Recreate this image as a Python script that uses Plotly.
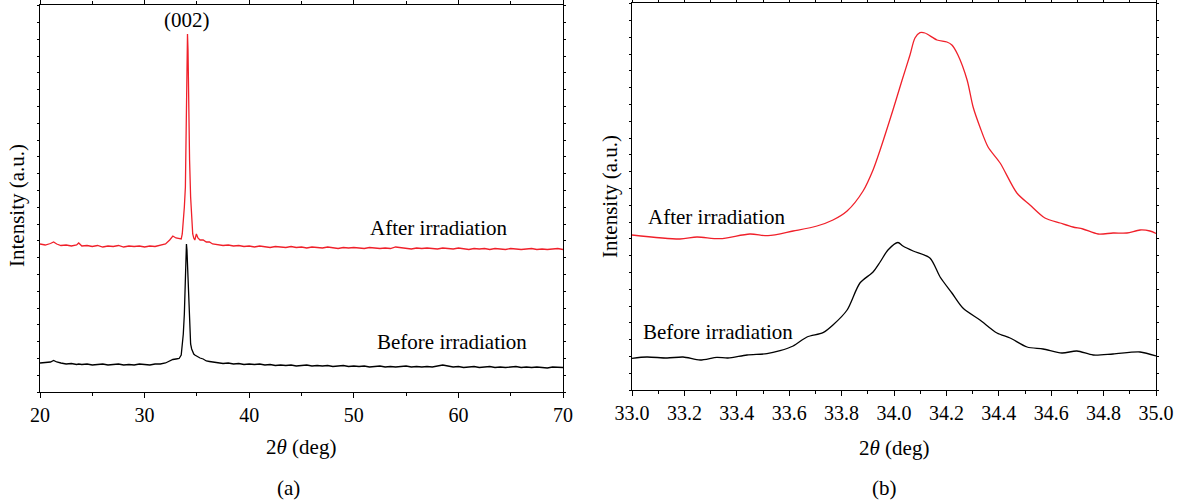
import plotly.graph_objects as go

# ---------------- Panel (a): wide scan ----------------
theta_a_head = [20.0, 20.5, 21.0, 21.3, 21.6, 22.0, 22.5, 23.0, 23.5, 23.7, 24.0, 24.5, 25.0, 25.5,
                26.0, 26.5, 27.0, 27.5, 28.0, 28.5, 29.0, 29.5, 30.0, 30.5, 31.0, 31.5, 32.0, 32.4,
                32.7, 33.0, 33.3]
theta_a_peak = [33.5, 33.6, 33.7, 33.8, 33.9, 34.0, 34.05, 34.1, 34.15, 34.2, 34.3, 34.4, 34.5, 34.6,
                34.7, 34.8, 34.95, 35.1, 35.3, 35.6, 35.9, 36.2, 36.5]
theta_a_tail = [37.0 + 0.5 * i for i in range(67)]  # 37.0 ... 70.0 sampling grid

after_a_head = [148, 147, 148.5, 150, 148, 146.5, 147, 146, 147, 149, 146, 146.5, 145.5, 146.5,
                145, 146, 145.5, 146.5, 145, 146, 145.5, 146, 145, 146, 145.5, 146.5, 148, 152,
                156, 154, 153]
after_a_peak = [153, 158, 168, 185, 205, 280, 345, 358, 342, 300, 232, 195, 170, 158,
                154, 152, 158, 154, 152, 152, 150, 150, 148]
after_a_tail = [147.5, 146.5, 147, 146, 146.5, 145.5, 146, 145, 146, 145.5,
                144.5, 145.5, 145, 144.5, 145.5, 144.5, 145, 144, 145, 144.5,
                144, 145, 144.5, 143.5, 144.5, 144, 144.5, 144, 143.5, 144.5,
                144, 143.5, 144, 143.5, 145, 144.5, 143.5, 143, 144, 143.5,
                144, 143.5, 143, 144, 143.5, 143, 144, 143.5, 142.5, 143.5,
                143, 143.5, 142.5, 143.5, 143, 142.5, 143.5, 143, 142.5, 143,
                143.5, 142.5, 143, 142.5, 143, 143.5, 142.5]

before_a_head = [29, 29.5, 30, 31.5, 30, 29, 28, 28.5, 27.5, 28, 27.5, 28, 27, 27.5,
                 28, 27, 27.5, 28, 27, 27.5, 27, 28, 27.5, 27, 28, 28, 29, 31,
                 32.5, 33, 33.5]
before_a_peak = [37, 45, 58, 78, 110, 148, 142, 128, 115, 100, 70, 48, 43, 40,
                 38, 37, 36, 35, 34, 33, 31, 30.5, 30]
before_a_tail = [29, 28.5, 29, 28, 28.5, 27.5, 28, 27.5, 28, 27,
                 27.5, 26.5, 27, 26.5, 27, 26, 26.5, 27, 26, 26.5,
                 26, 26.5, 25.5, 26, 26.5, 25.5, 26, 25.5, 26, 25,
                 25.5, 26, 25, 25.5, 25, 25.5, 26, 25, 25.5, 25,
                 25.5, 25, 26, 27, 26, 25, 25.5, 24.5, 25, 25.5,
                 24.5, 25, 25.5, 24.5, 25, 24.5, 25, 25.5, 24.5, 25,
                 24.5, 25, 24.5, 24, 25, 24.5, 24.5]

theta_a = theta_a_head + theta_a_peak + theta_a_tail
after_a = after_a_head + after_a_peak + after_a_tail
before_a = before_a_head + before_a_peak + before_a_tail

# ---------------- Panel (b): zoom on (002) ----------------
theta_b_after = [33.000, 33.183, 33.248, 33.336, 33.450, 33.519, 33.615, 33.706, 33.767, 33.821,
                 33.882, 33.920, 33.947, 33.996, 34.031, 34.061, 34.080, 34.099, 34.118, 34.164,
                 34.202, 34.221, 34.244, 34.279, 34.302, 34.328, 34.359, 34.405, 34.469, 34.519,
                 34.576, 34.634, 34.683, 34.721, 34.779, 34.836, 34.889, 34.939, 34.977, 35.000]
after_b = [155, 151, 153, 151.3, 156, 154.3, 159, 164, 170, 179,
           199, 220, 240, 280, 310, 335, 352, 357.3, 357, 350,
           348, 345, 335, 310, 283, 263, 243, 227, 197, 185,
           172, 167, 163, 161, 156, 157, 157, 160, 159, 156.5]

theta_b_before = [33.000, 33.057, 33.134, 33.195, 33.260, 33.324, 33.366, 33.439, 33.515, 33.565,
                  33.615, 33.668, 33.729, 33.767, 33.821, 33.870, 33.920, 33.947, 33.977, 34.015,
                  34.034, 34.073, 34.137, 34.176, 34.221, 34.263, 34.328, 34.393, 34.443, 34.508,
                  34.569, 34.641, 34.698, 34.760, 34.836, 34.939, 35.000]
before_b = [31.7, 33, 32, 33, 30, 32.7, 32, 35, 36.3, 39.3,
            44, 53, 57.3, 65, 80, 107, 118, 128, 140, 147.5,
            144, 139, 132, 113, 97, 82, 70, 57, 52, 43,
            41, 37, 39, 35, 36, 38, 34]

RED = "#f0202a"
BLACK = "#000000"
FONT = "Liberation Serif"
W, H = 1183, 504

fig = go.Figure()
fig.add_trace(go.Scatter(x=theta_a, y=after_a, mode="lines", line=dict(color=RED, width=1.3),
                         xaxis="x", yaxis="y", showlegend=False))
fig.add_trace(go.Scatter(x=theta_a, y=before_a, mode="lines", line=dict(color=BLACK, width=1.3),
                         xaxis="x", yaxis="y", showlegend=False))
fig.add_trace(go.Scatter(x=theta_b_after, y=after_b, mode="lines",
                         line=dict(color=RED, width=1.3, shape="spline", smoothing=0.8),
                         xaxis="x2", yaxis="y2", showlegend=False))
fig.add_trace(go.Scatter(x=theta_b_before, y=before_b, mode="lines",
                         line=dict(color=BLACK, width=1.3, shape="spline", smoothing=0.8),
                         xaxis="x2", yaxis="y2", showlegend=False))

common_x = dict(showline=True, linecolor="black", linewidth=1.3, mirror="allticks",
                ticks="outside", ticklen=5, tickwidth=1, tickcolor="black",
                showgrid=False, zeroline=False, automargin=False,
                tickfont=dict(family=FONT, size=20, color="black"))
common_y = dict(showline=True, linecolor="black", linewidth=1.3, mirror="allticks",
                ticks="outside", ticklen=2, tickwidth=1, tickcolor="black",
                showgrid=False, zeroline=False, showticklabels=False, automargin=False,
                range=[0, 387], tick0=0, dtick=16.8)

fig.update_layout(
    width=W, height=H,
    margin=dict(l=0, r=0, t=0, b=0, autoexpand=False),
    font=dict(family=FONT, size=20, color="black"),
    paper_bgcolor="white", plot_bgcolor="white",
    xaxis=dict(**common_x, domain=[40 / W, 563 / W], range=[20, 70], dtick=10, tick0=20,
               minor=dict(dtick=5, ticks="outside", ticklen=3, tickcolor="black"), anchor="y"),
    yaxis=dict(**common_y, domain=[1 - 392 / H, 1 - 5 / H], anchor="x"),
    xaxis2=dict(**common_x, domain=[632 / W, 1156 / W], range=[33, 35], dtick=0.2, tick0=33,
                tickformat=".1f",
                minor=dict(dtick=0.1, ticks="outside", ticklen=3, tickcolor="black"), anchor="y2"),
    yaxis2=dict(**common_y, domain=[1 - 390 / H, 1 - 3 / H], anchor="x2"),
)

def ann(text, x, y, size=21, angle=0, xref="paper", yref="paper"):
    fig.add_annotation(text=text, x=x, y=y, xref=xref, yref=yref, showarrow=False,
                       textangle=angle, xanchor="center", yanchor="middle",
                       font=dict(family=FONT, size=size, color="black"))

# axis titles and panel labels (paper coords from pixel positions)
ann("Intensity (a.u.)", 17 / W, 1 - 206 / H, angle=-90)
ann("Intensity (a.u.)", 610 / W, 1 - 197 / H, angle=-90)
ann("2<i>θ</i> (deg)", 301 / W, 1 - 447 / H)
ann("2<i>θ</i> (deg)", 894 / W, 1 - 448 / H)
ann("(a)", 288 / W, 1 - 488 / H)
ann("(b)", 884 / W, 1 - 488 / H)

# in-plot labels (data coords)
ann("(002)", 34.1, 372, xref="x", yref="y")
ann("After irradiation", 58.1, 164, xref="x", yref="y")
ann("Before irradiation", 59.4, 50, xref="x", yref="y")
ann("After irradiation", 33.323, 173, xref="x2", yref="y2")
ann("Before irradiation", 33.33, 58, xref="x2", yref="y2")

fig.write_html("out.html")
